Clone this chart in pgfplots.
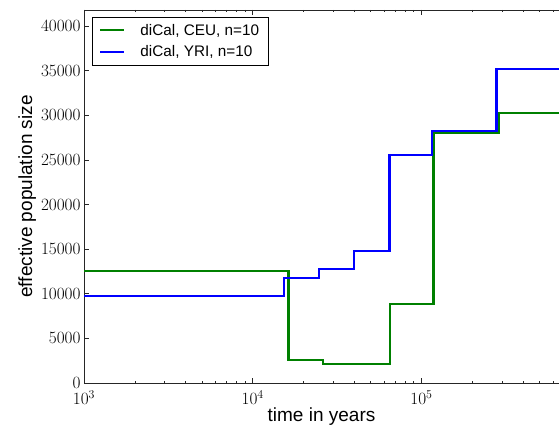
\documentclass[border=0pt]{standalone}
\usepackage[no-math]{fontspec}
\setmainfont{Liberation Sans}
\usepackage{pgfplots}
\pgfplotsset{compat=1.18}
\definecolor{mplgreen}{rgb}{0,0.5,0}
\definecolor{mplblue}{rgb}{0,0,1}
\begin{document}
\begin{tikzpicture}
\useasboundingbox (-84bp,-44bp) rectangle (475bp,383bp);
\begin{axis}[
  at={(0,0)}, anchor=south west,
  scale only axis, width=475bp, height=373bp,
  xmode=log, xmin=1000, xmax=653000,
  ymin=0, ymax=41800,
  axis x line*=box, axis y line*=left,
  every outer x axis line/.append style={-},
  every outer y axis line/.append style={-},
  axis line style={line width=0.8pt, black!85},
  ytick={0,5000,10000,15000,20000,25000,30000,35000,40000},
  scaled y ticks=false,
  yticklabel style={/pgf/number format/.cd, fixed, set thousands separator={}},
  xtick pos=both, ytick pos=left,
  tick align=inside,
  major tick length=5bp, minor tick length=2.5bp,
  tick style={black!85, line width=0.6pt},
  ticklabel style={font=\fontsize{17.5bp}{21bp}\selectfont},
  xticklabel style={yshift=-4bp},
  xlabel={time in years}, ylabel={effective population size},
  label style={font=\fontsize{19bp}{22bp}\selectfont},
  xlabel style={yshift=4bp},
  ylabel style={yshift=-2bp},
  legend style={at={(rel axis cs:0.017,0.982)}, anchor=north west,
    draw=black, line width=0.8pt, font=\fontsize{15.3bp}{18bp}\selectfont,
    row sep=5bp, inner xsep=7bp, inner ysep=5bp},
  legend cell align=left,
  legend image code/.code={\draw[#1, line width=2pt] (0bp,0bp) -- (24bp,0bp);},
]
\addplot[const plot mark left, mplgreen, line width=2.2pt] coordinates {
  (1000,12550) (16300,2580) (26200,2170) (65400,8890) (117800,28060) (286000,30300) (653000,30300)};
\addlegendentry{\hspace{13bp}diCal, CEU, n=10}
\addplot[const plot mark left, mplblue, line width=2.2pt] coordinates {
  (1000,9790) (15400,11800) (24800,12750) (40000,14830) (64600,25560) (116000,28280) (278000,35200) (653000,35200)};
\addlegendentry{\hspace{13bp}diCal, YRI, n=10}
\end{axis}
\end{tikzpicture}
\end{document}
